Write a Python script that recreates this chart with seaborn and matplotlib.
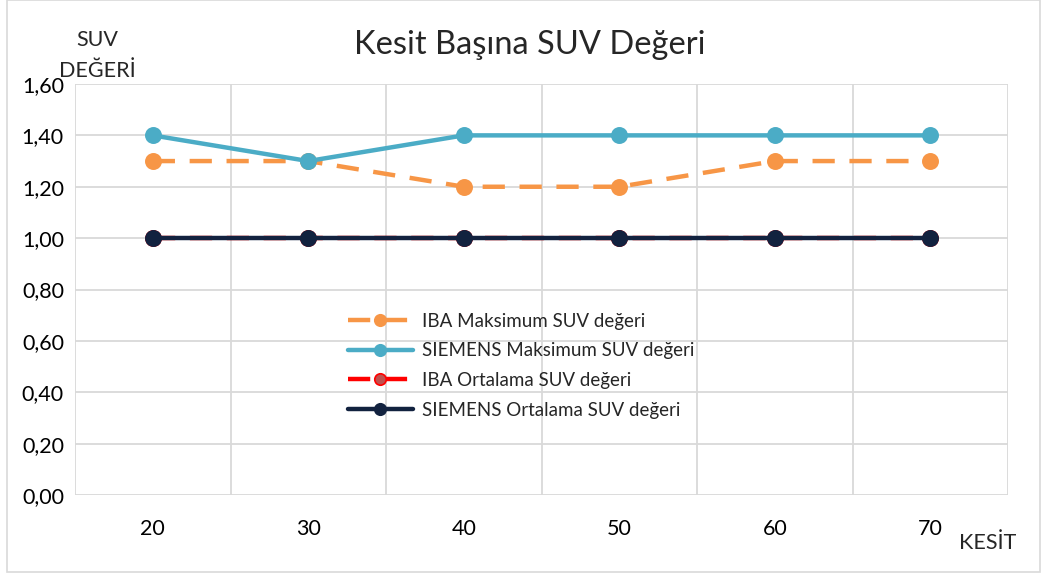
import matplotlib.pyplot as plt
import matplotlib.patches as mpatches
import pandas as pd
import seaborn as sns

# Data
kesit = [20, 30, 40, 50, 60, 70]
iba_maks = [1.30, 1.30, 1.20, 1.20, 1.30, 1.30]
siemens_maks = [1.40, 1.30, 1.40, 1.40, 1.40, 1.40]
iba_ort = [1.00, 1.00, 1.00, 1.00, 1.00, 1.00]
siemens_ort = [1.00, 1.00, 1.00, 1.00, 1.00, 1.00]

series_names = ["IBA Maksimum SUV değeri", "SIEMENS Maksimum SUV değeri",
                "IBA Ortalama SUV değeri", "SIEMENS Ortalama SUV değeri"]
series_values = [iba_maks, siemens_maks, iba_ort, siemens_ort]
y_ticks = [0.0, 0.2, 0.4, 0.6, 0.8, 1.0, 1.2, 1.4, 1.6]

sns.set_theme(style="white")
plt.rcParams['font.family'] = ['Lato', 'DejaVu Sans']

colors = ["#F79646", "#4BACC6", "#FF0000", "#12223F"]
dashed = [True, False, True, False]
marker_face = ["#F79646", "#4BACC6", "#C0504D", "#12223F"]

fig = plt.figure(figsize=(10.45, 5.77), dpi=100)
ax = fig.add_axes([75 / 1045, 1 - 495 / 577, (1008 - 75) / 1045, (495 - 84) / 577])

for name, vals, c, d, mf in zip(series_names, series_values, colors, dashed, marker_face):
    df = pd.DataFrame({"kesit": kesit, "suv": vals})
    sns.lineplot(data=df, x="kesit", y="suv", ax=ax, color=c, linewidth=3.2,
                 marker="o", markersize=11, markerfacecolor=mf, markeredgecolor=c,
                 markeredgewidth=1.2, label=name)
    if d:
        ax.lines[-1].set_dashes((5.0, 3.3))

ax.set_xlim(15, 75)
ax.set_ylim(0, 1.6)
ax.set_xticks(kesit)
ax.set_xticks([15, 25, 35, 45, 55, 65, 75], minor=True)
ax.set_yticks(y_ticks)
ax.set_yticklabels([f"{v:.2f}".replace(".", ",") for v in y_ticks])
ax.grid(True, which="minor", axis="x", color="#D9D9D9", linewidth=1.3)
ax.grid(True, which="major", axis="y", color="#D9D9D9", linewidth=1.3)
ax.grid(False, which="major", axis="x")
ax.tick_params(axis="both", which="both", length=0, labelsize=15.5, colors="black")
ax.tick_params(axis="x", pad=17)
ax.tick_params(axis="y", pad=8)
for s in ax.spines.values():
    s.set_visible(False)
ax.set_xlabel("")
ax.set_ylabel("")

fig.text(530 / 1045, 1 - 45 / 577, "Kesit Başına SUV Değeri",
         ha="center", va="center", fontsize=23.5)
fig.text(97 / 1045, 1 - 40 / 577, "SUV", ha="center", va="center", fontsize=15.5)
fig.text(97 / 1045, 1 - 71 / 577, "DEĞERİ", ha="center", va="center", fontsize=15.5)
fig.text(988 / 1045, 1 - 543 / 577, "KESİT", ha="center", va="center", fontsize=15.5)

leg = ax.legend(loc="upper left", bbox_to_anchor=((340 - 75) / 933, 1 - (305 - 84) / 411),
                frameon=False, fontsize=13.5, handlelength=3.5, handletextpad=0.45,
                labelspacing=0.68, borderaxespad=0, markerscale=0.75)

fig.patches.append(mpatches.Rectangle((7 / 1045, 5 / 577), 1 - 12 / 1045, 1 - 5 / 577,
                                      transform=fig.transFigure, fill=False,
                                      edgecolor="#D9D9D9", linewidth=1.2))

plt.savefig("out.png", dpi=100)
